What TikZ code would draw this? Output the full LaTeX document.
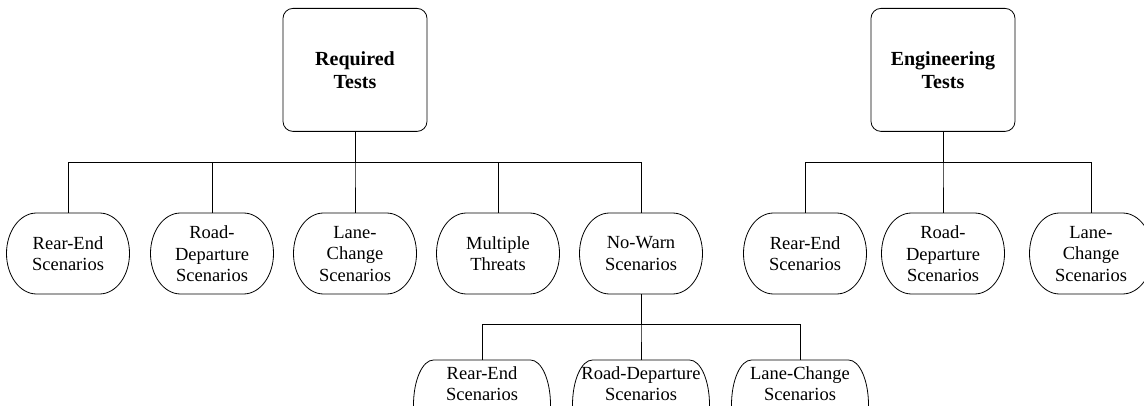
\documentclass[tikz,border=0pt]{standalone}
\usepackage{fontspec}
\setmainfont{Liberation Serif}
\usetikzlibrary{calc}
\tikzset{
    testbox/.style={draw, line width=0.8pt, rounded corners=10pt, minimum width=144pt, minimum height=123pt,
        anchor=north, align=center, font=\fontsize{20}{23.3}\selectfont\bfseries},
    scenario/.style={minimum width=123pt, minimum height=81pt, inner sep=0pt, anchor=north,
        align=center, font=\fontsize{18.5}{21.5}\selectfont},
    subscenario/.style={minimum width=137pt, inner xsep=0pt, inner ysep=6.4pt, anchor=north,
        align=center, font=\fontsize{18.5}{21.5}\selectfont},
    link/.style={line width=0.8pt},
}

\begin{document}
\begin{tikzpicture}[x=1pt,y=1pt]

            \useasboundingbox (0,0) rectangle (1144,-406);

            \node[testbox] (req) at (355,-8) {Required\\Tests};
            \node[testbox] (eng) at (943,-8) {Engineering\\Tests};

            \node[scenario] (re) at (68,-213) {Rear-End\\Scenarios};
            \node[scenario] (rd) at (212,-213) {Road-\\Departure\\Scenarios};
            \node[scenario] (lc) at (355,-213) {Lane-\\Change\\Scenarios};
            \node[scenario] (mt) at (498,-213) {Multiple\\Threats};
            \node[scenario] (nw) at (641,-213) {No-Warn\\Scenarios};
            \node[scenario] (ere) at (805,-213) {Rear-End\\Scenarios};
            \node[scenario] (erd) at (943,-213) {Road-\\Departure\\Scenarios};
            \node[scenario] (elc) at (1091,-213) {Lane-\\Change\\Scenarios};

            \node[subscenario] (nre) at (482,-360) {Rear-End\\Scenarios};
            \node[subscenario] (nrd) at (641,-360) {Road-Departure\\Scenarios};
            \node[subscenario] (nlc) at (800,-360) {Lane-Change\\Scenarios};

            % outlines with curved sides
            \foreach \n in {re,rd,lc,mt,nw,ere,erd,elc}
                \draw[link] ([xshift=-31.5pt]\n.north) -- ([xshift=31.5pt]\n.north)
                    arc[start angle=90, end angle=-90, x radius=30pt, y radius=40.5pt]
                    -- ([xshift=-31.5pt,yshift=-81pt]\n.north)
                    arc[start angle=270, end angle=90, x radius=30pt, y radius=40.5pt] -- cycle;
            \foreach \n in {nre,nrd,nlc}
                \draw[link] ([xshift=-48.5pt]\n.north) -- ([xshift=48.5pt]\n.north)
                    arc[start angle=90, end angle=-90, x radius=20pt, y radius=45pt]
                    -- ([xshift=-48.5pt,yshift=-90pt]\n.north)
                    arc[start angle=270, end angle=90, x radius=20pt, y radius=45pt] -- cycle;

            % tree links
            \foreach \c in {re,rd,lc,mt,nw}
                \draw[link] (req.south) -- ++(0,-31) -| (\c.north);
            \foreach \c in {ere,erd,elc}
                \draw[link] (eng.south) -- ++(0,-31) -| (\c.north);
            \foreach \c in {nre,nrd,nlc}
                \draw[link] (nw.south) -- ++(0,-30) -| (\c.north);
        \end{tikzpicture}
\end{document}
